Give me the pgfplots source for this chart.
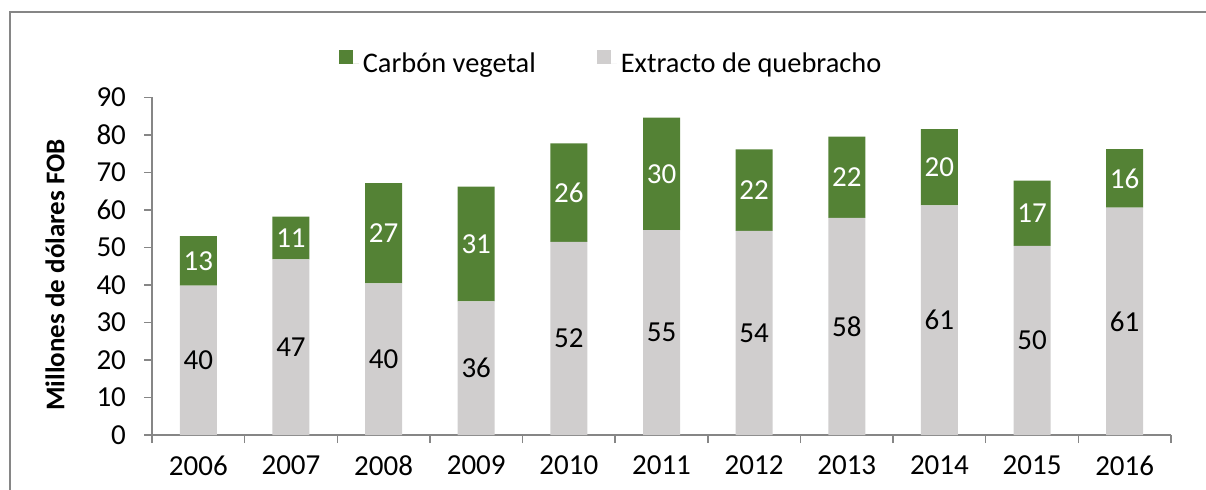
\documentclass[border=0pt]{standalone}
\usepackage{pgfplots}
\pgfplotsset{compat=1.18}
\usepackage{fontspec}
\setmainfont{Carlito}
\definecolor{cgreen}{HTML}{548235}
\definecolor{cgray}{HTML}{D0CECE}
\definecolor{caxis}{HTML}{868686}
\newcommand{\fs}{\fontsize{14.5}{17}\selectfont}
\newcommand{\fl}{\fontsize{14.2}{17}\selectfont}
\begin{document}
\begin{tikzpicture}
\useasboundingbox (0,0) rectangle (603pt,-244.5pt);
\clip (0,0) rectangle (603pt,-244.5pt);
\draw[caxis, line width=0.7pt] (5pt,-5.9pt) rectangle (700pt,-300pt);
\begin{axis}[
  at={(76pt,-217.5pt)}, anchor=south west,
  scale only axis, width=509.5pt, height=168.85pt,
  ybar stacked, bar width=18.5pt,
  xmin=-0.5, xmax=10.5, ymin=0, ymax=90,
  axis x line=bottom, axis y line=left,
  axis line style={-, caxis, line width=0.7pt},
  tick align=outside,
  major tick length=4pt, minor tick length=4pt,
  tick style={caxis, line width=0.7pt},
  major x tick style={draw=none},
  xtick={0,...,10},
  xticklabels={2006,2007,2008,2009,2010,2011,2012,2013,2014,2015,2016},
  minor xtick={-0.5,0.5,...,10.5},
  ytick={0,10,...,90},
  /pgf/number format/assume math mode=true,
  ticklabel style={font=\fs},
  yticklabel style={xshift=-5.5pt},
  xticklabel style={yshift=-3pt},
  ylabel={\textbf{Millones de dólares FOB}},
  ylabel style={at={(axis description cs:-0.0952,0.474)}, anchor=center, font=\fontsize{13.5}{16}\selectfont},
  reverse legend,
  legend columns=2,
  legend style={at={(axis description cs:0.4515,1.099)}, anchor=center, draw=none, fill=none, font=\fl,
    /tikz/every even column/.append style={column sep=28.5pt}},
  legend image code/.code={\fill[#1] (0pt,-0.3pt) rectangle (7.3pt,7pt); \path (0pt,0pt) -- (10pt,0pt);},
]
\addplot[fill=cgray, draw=none] coordinates {(0,39.8) (1,46.8) (2,40.4) (3,35.6) (4,51.5) (5,54.6) (6,54.4) (7,57.9) (8,61.2) (9,50.4) (10,60.6)};
\addlegendentry{Extracto de quebracho}
\addplot[fill=cgreen, draw=none] coordinates {(0,13.2) (1,11.4) (2,26.7) (3,30.6) (4,26.2) (5,30.0) (6,21.7) (7,21.6) (8,20.3) (9,17.4) (10,15.6)};
\addlegendentry{Carbón vegetal}
\end{axis}
\begin{axis}[
  at={(76pt,-217.5pt)}, anchor=south west,
  scale only axis, width=509.5pt, height=168.85pt,
  xmin=-0.5, xmax=10.5, ymin=0, ymax=90,
  hide axis, clip=false,
]
\addplot[draw=none, mark=none, nodes near coords, point meta=explicit symbolic,
  nodes near coords style={anchor=center, font=\fs, text=black, inner sep=0pt}]
  coordinates {(0,19.9)[40] (1,23.4)[47] (2,20.2)[40] (3,17.8)[36] (4,25.75)[52] (5,27.3)[55] (6,27.2)[54] (7,28.95)[58] (8,30.6)[61] (9,25.2)[50] (10,30.3)[61]};
\addplot[draw=none, mark=none, nodes near coords, point meta=explicit symbolic,
  nodes near coords style={anchor=center, font=\fs, text=white, inner sep=0pt}]
  coordinates {(0,46.4)[13] (1,52.5)[11] (2,53.75)[27] (3,50.9)[31] (4,64.6)[26] (5,69.6)[30] (6,65.25)[22] (7,68.7)[22] (8,71.35)[20] (9,59.1)[17] (10,68.4)[16]};
\end{axis}
\end{tikzpicture}
\end{document}
